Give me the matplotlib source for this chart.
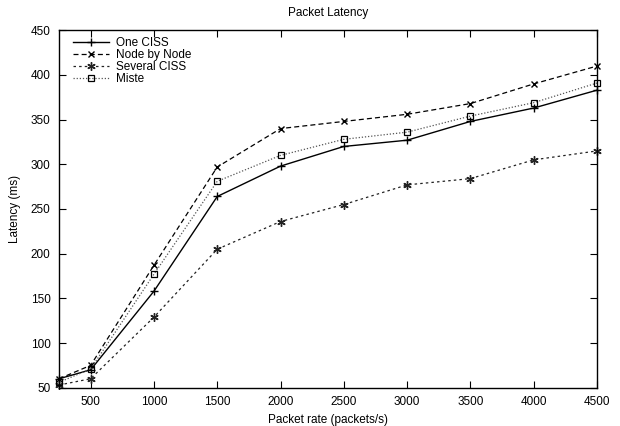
import matplotlib
matplotlib.use("Agg")
import matplotlib.pyplot as plt

plt.rcParams["font.family"] = ["Liberation Sans", "DejaVu Sans"]
plt.rcParams["font.size"] = 8.5

rates = [250, 500, 1000, 1500, 2000, 2500, 3000, 3500, 4000, 4500]
one_ciss = [60, 70, 158, 264, 298, 320, 327, 348, 363, 383]
node_by_node = [60, 75, 187, 297, 340, 348, 356, 368, 390, 410]
several_ciss = [53, 60, 129, 205, 236, 255, 277, 284, 305, 315]
miste = [56, 71, 177, 281, 310, 328, 336, 354, 369, 391]

xticks = [500, 1000, 1500, 2000, 2500, 3000, 3500, 4000, 4500]
yticks = [50, 100, 150, 200, 250, 300, 350, 400, 450]

fig = plt.figure(figsize=(6.2, 4.26), dpi=100)
ax = fig.add_axes([59 / 620, 1 - 387.7 / 426, (597 - 59) / 620, (387.7 - 30.3) / 426])

ax.plot(rates, one_ciss, color="black", linestyle="-", linewidth=1.0,
        marker="+", markersize=6, markeredgewidth=1.0, label="One CISS", clip_on=False)
ax.plot(rates, node_by_node, color="black", linestyle=(0, (4, 2.5)), linewidth=0.9,
        marker="x", markersize=5, markeredgewidth=1.0, label="Node by Node", clip_on=False)
ax.plot(rates, several_ciss, color="#222222", linestyle=(0, (2, 2.5)), linewidth=0.9,
        marker=(6, 2, 0), markersize=6, markeredgewidth=1.0, label="Several CISS",
        clip_on=False)
ax.plot(rates, miste, color="#555555", linestyle=(0, (1, 1.5)), linewidth=0.9,
        marker="s", markersize=5, markerfacecolor="none", markeredgecolor="black",
        markeredgewidth=0.9, label="Miste", clip_on=False)

ax.set_xlim(250, 4500)
ax.set_ylim(50, 450)
ax.set_xticks(xticks)
ax.set_yticks(yticks)
ax.tick_params(direction="in", top=True, right=True, length=5, width=0.8, pad=6)
for sp in ax.spines.values():
    sp.set_linewidth(1.0)

ax.set_title("Packet Latency", fontsize=8.5, pad=10)
ax.set_xlabel("Packet rate (packets/s)", fontsize=8.5, labelpad=4)
ax.set_ylabel("Latency (ms)", fontsize=8.5, labelpad=7)

ax.legend(loc="upper left", bbox_to_anchor=(0.018, 0.995), frameon=False,
          handlelength=3.0, handletextpad=0.6, labelspacing=0.01,
          borderaxespad=0, fontsize=8.5)

fig.savefig("out.png", dpi=100)
